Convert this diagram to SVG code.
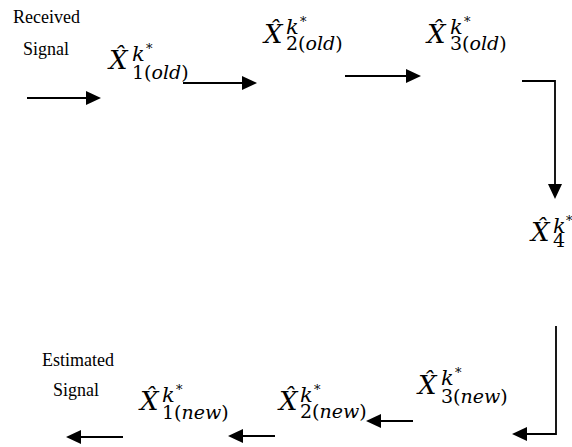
<svg xmlns="http://www.w3.org/2000/svg" width="572" height="447" viewBox="0 0 572 447">
<style>
.lbl{font-family:"Liberation Serif","Times New Roman",serif;font-size:18px;fill:#000}
.mx{font-family:"DejaVu Serif",serif;font-style:italic;font-size:26px;fill:#000}
.ms{font-size:19px;font-style:normal}
.sk{font-size:21px;font-style:italic}
.it{font-style:italic}
.ast{font-size:13px;font-style:normal}
.con{stroke:#000;stroke-width:1.8;fill:none}
</style>
<defs>
<marker id="ah" markerUnits="userSpaceOnUse" markerWidth="16" markerHeight="16" viewBox="0 0 16 16" refX="1" refY="8" orient="auto">
<path d="M0,1 L15,8 L0,15 Z" fill="#000"/>
</marker>
</defs>
<rect width="572" height="447" fill="#fff"/>
<g id="received">
<text class="lbl" x="13" y="23">Received</text>
<text class="lbl" x="23" y="55">Signal</text>
</g>
<g id="estimated">
<text class="lbl" x="42" y="366">Estimated</text>
<text class="lbl" x="53" y="396">Signal</text>
</g>
<g id="x1old">
<text class="mx" x="109" y="69">X̂<tspan class="sk" x="132" y="61">k</tspan><tspan class="ast" x="146" y="53">*</tspan><tspan class="ms" x="132" y="79">1(<tspan class="it">old</tspan>)</tspan></text>
</g>
<g id="x2old">
<text class="mx" x="264" y="43">X̂<tspan class="sk" x="286" y="34">k</tspan><tspan class="ast" x="300" y="26">*</tspan><tspan class="ms" x="286" y="50">2(<tspan class="it">old</tspan>)</tspan></text>
</g>
<g id="x3old">
<text class="mx" x="427" y="43">X̂<tspan class="sk" x="450" y="34">k</tspan><tspan class="ast" x="464" y="26">*</tspan><tspan class="ms" x="450" y="50">3(<tspan class="it">old</tspan>)</tspan></text>
</g>
<g id="x4">
<text class="mx" x="531" y="241">X̂<tspan class="sk" x="553" y="233">k</tspan><tspan class="ast" x="566" y="225">*</tspan><tspan class="ms" x="553" y="247">4</tspan></text>
</g>
<g id="x3new">
<text class="mx" x="418" y="394">X̂<tspan class="sk" x="441" y="385">k</tspan><tspan class="ast" x="455" y="377">*</tspan><tspan class="ms" x="441" y="403">3(<tspan class="it">new</tspan>)</tspan></text>
</g>
<g id="x2new">
<text class="mx" x="279" y="410">X̂<tspan class="sk" x="300" y="402">k</tspan><tspan class="ast" x="314" y="394">*</tspan><tspan class="ms" x="300" y="418">2(<tspan class="it">new</tspan>)</tspan></text>
</g>
<g id="x1new">
<text class="mx" x="140" y="410">X̂<tspan class="sk" x="162" y="402">k</tspan><tspan class="ast" x="176" y="394">*</tspan><tspan class="ms" x="162" y="419">1(<tspan class="it">new</tspan>)</tspan></text>
</g>
<g id="connectors">
<line class="con" x1="27" y1="98" x2="87" y2="98" marker-end="url(#ah)"/>
<line class="con" x1="183" y1="83" x2="243" y2="83" marker-end="url(#ah)"/>
<line class="con" x1="345" y1="76" x2="407" y2="76" marker-end="url(#ah)"/>
<polyline class="con" points="522,81 555,81 555,185" marker-end="url(#ah)"/>
<polyline class="con" points="556,326 556,434 526,434" marker-end="url(#ah)"/>
<line class="con" x1="413" y1="421" x2="380" y2="421" marker-end="url(#ah)"/>
<line class="con" x1="275" y1="436" x2="242" y2="436" marker-end="url(#ah)"/>
<line class="con" x1="123" y1="437" x2="80" y2="437" marker-end="url(#ah)"/>
</g>
</svg>
